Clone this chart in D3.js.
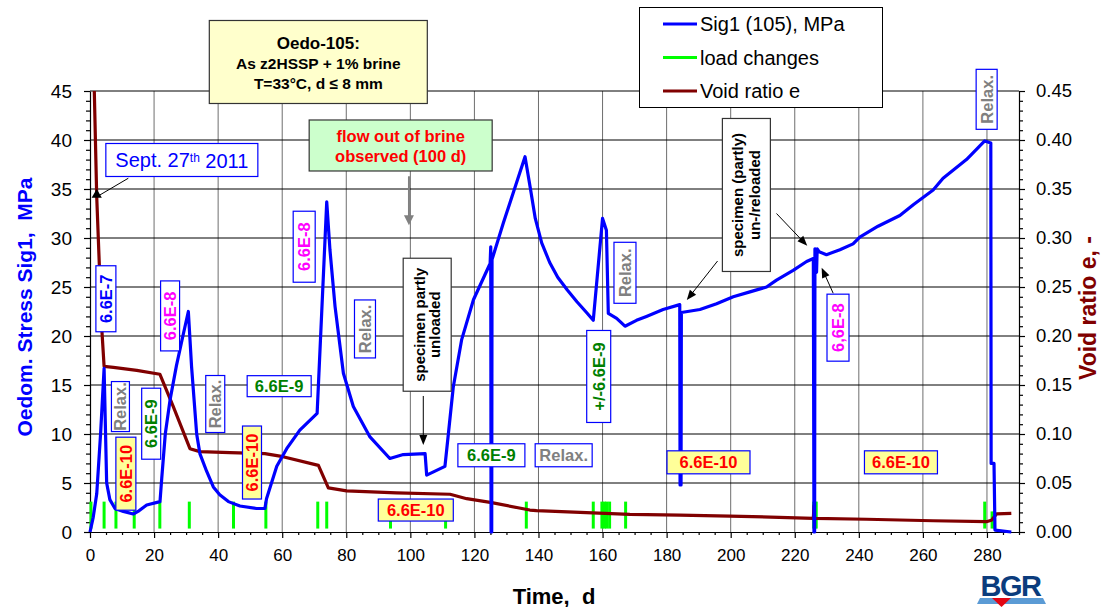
<!DOCTYPE html>
<html><head><meta charset="utf-8">
<script src="https://cdn.jsdelivr.net/npm/d3@7"></script>
<style>
body{margin:0;background:#fff}
svg{font-family:"Liberation Sans",Arial,sans-serif}
</style>
</head><body>
<svg id="c" width="1104" height="607"></svg>
<script>
// ---------------- data ----------------
const sig1Time  = [0, 1, 2.1, 3.3, 4.4, 5.2, 6.2, 7.8, 10.4, 13.5, 15, 17.7, 21.85, 22.4, 23.5, 25, 27, 29, 30.7, 31.7, 33.3, 34.3, 36.4, 38.5, 40.5, 43.2, 46.8, 52, 54.6, 55.1, 58.3, 61.4, 65.5, 70.9, 73.9, 74.9, 76.5, 79.1, 82.2, 87.4, 93.6, 97.8, 104.6, 105.1, 110.8, 111.9, 113.4, 116, 119.7, 124.9, 125.1, 125.2, 125.4, 125.5, 129, 132.1, 135.8, 137.5, 139, 141, 143.5, 146, 149, 152, 155, 157.1, 160, 161.2, 161.8, 164.4, 167, 170.6, 173.7, 178.9, 184.1, 184.2, 184.5, 184.6, 190.4, 195.6, 200.8, 206, 211.2, 214.3, 219.5, 223.7, 225.8, 226.0, 226.2, 226.3, 226.8, 227.0, 227.6, 229.9, 234.1, 238.2, 240.3, 246, 252.8, 257, 263.2, 266.3, 273.6, 279.3, 281.2, 281.3, 282.2, 282.5, 287.6];
const sig1Value = [0, 1.5, 3.9, 10, 16.7, 5, 3.3, 2.4, 2.1, 1.84, 2.1, 2.76, 3.1, 5.5, 10, 13.5, 17, 20, 22.5, 16.9, 10, 8, 6.2, 4.6, 3.8, 3.1, 2.65, 2.4, 2.4, 3.4, 6.7, 8.5, 10.4, 12.1, 33.7, 28.8, 23, 16.2, 12.8, 9.7, 7.5, 7.9, 8.0, 5.8, 6.7, 10.1, 14.8, 19.6, 23.7, 27.4, 29.1, 0, 0, 27.8, 31.5, 34.6, 38.3, 35, 32, 29.5, 27.5, 26, 24.7, 23.5, 22.4, 21.6, 32, 30.8, 22.3, 21.8, 21, 21.6, 22, 22.7, 23.2, 4.8, 4.8, 22.4, 22.7, 23.3, 24, 24.5, 25, 25.7, 26.7, 27.6, 27.9, 0, 0, 28.9, 26.5, 28.9, 28.6, 28.3, 28.8, 29.4, 30.1, 31.2, 32.3, 33.4, 34.9, 36.1, 38, 39.9, 39.7, 7, 7, 0.2, 0];

const voidTime  = [1.2, 2.1, 3.65, 4.4, 7.3, 14.6, 21.8, 26, 31.2, 34.3, 43.7, 54.6, 59.3, 71.3, 74.4, 80.1, 95.7, 112.4, 117.6, 125.4, 137.3, 139.4, 153, 168.5, 184.1, 199.7, 225.8, 226.0, 226.2, 242.4, 263.2, 279.8, 281.4, 283, 287.6];
const voidValue = [0.47, 0.342, 0.209, 0.169, 0.168, 0.165, 0.161, 0.128, 0.085, 0.082, 0.081, 0.080, 0.0775, 0.068, 0.045, 0.042, 0.040, 0.0385, 0.034, 0.030, 0.0224, 0.0218, 0.020, 0.018, 0.0173, 0.0163, 0.014, 0.027, 0.014, 0.013, 0.0115, 0.0105, 0.012, 0.0184, 0.019];

const loadChangeTimes = [0.3, 4.4, 8.1, 13.8, 21.8, 31, 44.8, 54.9, 71.1, 73.9, 93.8, 111, 136.2, 157.1, 159.8, 160.6, 161.3, 162.2, 167.2, 225.9, 226.3, 226.7, 279.3, 281.6, 282.3];
const loadChangeTop   = [3.1, 3.1, 3.1, 3.1, 3.1, 3.1, 3.1, 3.1, 3.1, 3.1, 3.1, 3.1, 3.1, 3.1, 3.1, 3.1, 3.1, 3.1, 3.1, 3.1, 3.1, 3.1, 3.1, 2.1, 2.1];
const loadChangeBottom = 0.35;

const xTicks = d3.range(0, 281, 20);
const yLeftTicks = d3.range(0, 46, 5);
const yRightTicks = d3.range(0, 0.451, 0.05);

const legendItems = ["Sig1 (105), MPa", "load changes", "Void ratio e"];

// ---------------- setup ----------------
const svg = d3.select("#c");
const x = d3.scaleLinear().domain([0, 290]).range([90, 1019]);
const y = d3.scaleLinear().domain([0, 45]).range([532, 91]);
const yR = d3.scaleLinear().domain([0, 0.45]).range([532, 91]);

const BLUE = "#0000FF", GREEN = "#00FF00", DRED = "#800000";

// grid
svg.append("g").selectAll("line").data(xTicks.filter(d => d > 0)).join("line")
  .attr("x1", d => x(d)).attr("x2", d => x(d)).attr("y1", y(0)).attr("y2", y(45))
  .attr("stroke", "#6e6e6e").attr("stroke-width", 1);
svg.append("g").selectAll("line").data(yLeftTicks.filter(d => d > 0)).join("line")
  .attr("x1", x(0)).attr("x2", x(290)).attr("y1", d => y(d)).attr("y2", d => y(d))
  .attr("stroke", "#000").attr("stroke-width", 1);

// axes
const fmt2 = d3.format(".2f");
const axL = svg.append("g").attr("transform", `translate(${x(0)},0)`)
  .call(d3.axisLeft(y).tickValues(yLeftTicks).tickSize(6).tickSizeOuter(0).tickPadding(12));
svg.append("g").attr("transform", `translate(${x(0)},0)`)
  .call(d3.axisLeft(y).tickValues(d3.range(0, 46, 1).filter(d => d % 5)).tickSize(4).tickFormat(""))
  .select(".domain").remove();
const axR = svg.append("g").attr("transform", `translate(${x(290)},0)`)
  .call(d3.axisRight(yR).tickValues(yRightTicks).tickSize(6).tickSizeOuter(0).tickPadding(11).tickFormat(fmt2));
svg.append("g").attr("transform", `translate(${x(290)},0)`)
  .call(d3.axisRight(yR).tickValues(d3.range(0, 46, 1).filter(d => d % 5).map(d => d / 100)).tickSize(4).tickFormat(""))
  .select(".domain").remove();
const axB = svg.append("g").attr("transform", `translate(0,${y(0)})`)
  .call(d3.axisBottom(x).tickValues(xTicks).tickSize(6).tickSizeOuter(0).tickPadding(11));
svg.append("g").attr("transform", `translate(0,${y(0)})`)
  .call(d3.axisBottom(x).tickValues(d3.range(0, 291, 5).filter(d => d % 20)).tickSize(3).tickFormat(""))
  .select(".domain").remove();
svg.selectAll(".domain, .tick line").attr("stroke", "#000").attr("stroke-width", 1.2);
axL.selectAll("text").attr("font-size", 19).attr("fill", "#000").attr("font-family", "Liberation Sans, Arial");
axR.selectAll("text").attr("font-size", 18.5).attr("fill", "#000").attr("font-family", "Liberation Sans, Arial");
axB.selectAll("text").attr("font-size", 17).attr("fill", "#000").attr("font-family", "Liberation Sans, Arial");

// axis titles
svg.append("text").attr("transform", "translate(24,307) rotate(-90)")
  .attr("text-anchor", "middle").attr("dominant-baseline", "central")
  .attr("font-size", 21).attr("font-weight", "bold").attr("fill", BLUE)
  .style("white-space", "pre").text("Oedom. Stress Sig1,  MPa");
svg.append("text").attr("transform", "translate(1088,308) rotate(-90)")
  .attr("text-anchor", "middle").attr("dominant-baseline", "central")
  .attr("font-size", 23).attr("font-weight", "bold").attr("fill", DRED)
  .text("Void ratio e, -");
svg.append("text").attr("x", 554).attr("y", 596)
  .attr("text-anchor", "middle").attr("dominant-baseline", "central")
  .attr("font-size", 22).attr("font-weight", "bold").attr("fill", "#000")
  .style("white-space", "pre").text("Time,  d");

// clip
svg.append("clipPath").attr("id", "clip").append("rect")
  .attr("x", x(0) - 3).attr("y", y(45)).attr("width", x(290) - x(0) + 3).attr("height", y(0) - y(45) + 3);

// load changes
svg.append("g").selectAll("line").data(loadChangeTimes).join("line")
  .attr("x1", d => x(d)).attr("x2", d => x(d))
  .attr("y1", y(loadChangeBottom)).attr("y2", (d, i) => y(loadChangeTop[i]))
  .attr("stroke", GREEN).attr("stroke-width", 3);

// void ratio
const voidData = voidTime.map((t, i) => [t, voidValue[i]]);
svg.append("path").datum(voidData).attr("clip-path", "url(#clip)")
  .attr("d", d3.line().x(d => x(d[0])).y(d => yR(d[1])))
  .attr("fill", "none").attr("stroke", DRED).attr("stroke-width", 3.2).attr("stroke-linejoin", "round");

// sig1
const sigData = sig1Time.map((t, i) => [t, sig1Value[i]]);
svg.append("path").datum(sigData).attr("clip-path", "url(#clip)")
  .attr("d", d3.line().x(d => x(d[0])).y(d => y(d[1])))
  .attr("fill", "none").attr("stroke", BLUE).attr("stroke-width", 3.2).attr("stroke-linejoin", "round");

// ---------------- annotations ----------------
function arrow(t1, s1, t2, s2, color, head) {
  const x1 = x(t1), y1 = y(s1), x2 = x(t2), y2 = y(s2);
  const ang = Math.atan2(y2 - y1, x2 - x1);
  const L = head ? 10 : 0;
  svg.append("line").attr("x1", x1).attr("y1", y1)
    .attr("x2", x2 - Math.cos(ang) * L * 0.8).attr("y2", y2 - Math.sin(ang) * L * 0.8)
    .attr("stroke", color).attr("stroke-width", color === "#808080" ? 2 : 1);
  if (head) {
    const w = color === "#808080" ? 5 : 4;
    const bx = x2 - Math.cos(ang) * L, by = y2 - Math.sin(ang) * L;
    const px = -Math.sin(ang) * w, py = Math.cos(ang) * w;
    svg.append("path").attr("d", `M${x2},${y2}L${bx + px},${by + py}L${bx - px},${by - py}Z`).attr("fill", color);
  }
}

const labels = [
  {t: 4.96, s: 23.8, text: "6.6E-7", color: BLUE, rot: true, len: 66, thick: 20},
  {t: 9.5, s: 12.8, text: "Relax.", color: "#808080", rot: true, len: 50, thick: 18},
  {t: 11.2, s: 5.95, text: "6.6E-10", color: "#FF0000", fill: "#FFFF99", rot: true, len: 73, thick: 20},
  {t: 19.1, s: 11.05, text: "6.6E-9", color: "#008000", rot: true, len: 71, thick: 19},
  {t: 25, s: 22.05, text: "6.6E-8", color: "#FF00FF", rot: true, len: 70, thick: 19},
  {t: 39.1, s: 13.06, text: "Relax.", color: "#808080", rot: true, len: 57, thick: 19},
  {t: 59.05, s: 14.88, text: "6.6E-9", color: "#008000", rot: false, len: 64, thick: 21},
  {t: 50.57, s: 7.09, text: "6.6E-10", color: "#FF0000", fill: "#FFFF99", rot: true, len: 73, thick: 19},
  {t: 66.86, s: 29.11, text: "6.6E-8", color: "#FF00FF", rot: true, len: 71, thick: 22},
  {t: 85.84, s: 20.72, text: "Relax.", color: "#808080", rot: true, len: 58, thick: 21},
  {t: 101.7, s: 2.24, text: "6.6E-10", color: "#FF0000", fill: "#FFFF99", rot: false, len: 75, thick: 22},
  {t: 125.3, s: 7.83, text: "6.6E-9", color: "#008000", rot: false, len: 67, thick: 23},
  {t: 147.86, s: 7.83, text: "Relax.", color: "#808080", rot: false, len: 57, thick: 23},
  {t: 158.8, s: 15.87, text: "+/-6.6E-9", color: "#008000", rot: true, len: 92, thick: 24},
  {t: 167, s: 26.45, text: "Relax.", color: "#808080", rot: true, len: 61, thick: 22},
  {t: 193.07, s: 7.11, text: "6.6E-10", color: "#FF0000", fill: "#FFFF99", rot: false, len: 83, thick: 23},
  {t: 233.5, s: 20.85, text: "6,6E-8", color: "#FF00FF", rot: true, len: 67, thick: 22},
  {t: 253.15, s: 7.11, text: "6.6E-10", color: "#FF0000", fill: "#FFFF99", rot: false, len: 73, thick: 23},
  {t: 279.9, s: 44.15, text: "Relax.", color: "#808080", rot: true, len: 60, thick: 21}
];

// arrows (drawn under boxes)
arrow(99.57, 36.3, 99.57, 31.3, "#808080", true);
arrow(104.04, 13.88, 104.04, 8.88, "#000", true);
arrow(214.3, 32.5, 223.9, 29.2, "#000", true);
arrow(195.9, 27.65, 186.3, 23.67, "#000", true);
arrow(232, 24.36, 228.4, 26.97, "#000", true);
arrow(11.96, 36.1, 2.1, 34.2, "#000", false);
svg.append("path").attr("transform", `translate(${x(2.1)},${yR(0.342) - 2})`)
  .attr("d", d3.symbol(d3.symbolTriangle, 45)()).attr("fill", "#000");

labels.forEach(o => {
  const g = svg.append("g").attr("transform", `translate(${x(o.t)},${y(o.s)}) rotate(${o.rot ? -90 : 0})`);
  g.append("rect").attr("x", -o.len / 2).attr("y", -o.thick / 2).attr("width", o.len).attr("height", o.thick)
    .attr("fill", o.fill || "#fff").attr("stroke", BLUE).attr("stroke-width", 1.2);
  g.append("text").attr("text-anchor", "middle").attr("dy", "0.36em")
    .attr("font-weight", "bold").attr("font-size", 16.5).attr("fill", o.color).text(o.text);
});

function multiBox(t, s, w, h, rot, fill, lines, color, size, offsets) {
  const g = svg.append("g").attr("transform", `translate(${x(t)},${y(s)}) rotate(${rot ? -90 : 0})`);
  g.append("rect").attr("x", -w / 2).attr("y", -h / 2).attr("width", w).attr("height", h)
    .attr("fill", fill).attr("stroke", "#333").attr("stroke-width", 1.2);
  lines.forEach((ln, i) => {
    g.append("text").attr("text-anchor", "middle").attr("y", offsets[i]).attr("dy", "0.36em")
      .attr("font-weight", "bold").attr("font-size", size[i]).attr("fill", color).text(ln);
  });
}
multiBox(71.27, 47.96, 218, 83, false, "#FFFFCC", ["Oedo-105:", "As z2HSSP + 1% brine", "T=33°C, d ≤ 8 mm"], "#000", [17, 15.5, 15.5], [-19, 1, 21]);
multiBox(96.98, 39.44, 183, 51, false, "#CCFFCC", ["flow out of brine", "observed (100 d)"], "#FF0000", [16.5, 16.5], [-9, 11]);
multiBox(105.26, 21.15, 133, 48, true, "#fff", ["specimen partly", "unloaded"], "#000", [15, 15], [-7.5, 7.5]);
multiBox(204.9, 34.39, 153, 48, true, "#fff", ["specimen (partly)", "un-/reloaded"], "#000", [15, 15], [-8.5, 8.5]);

// Sept label
const sg = svg.append("g").attr("transform", `translate(${x(28.67)},${y(37.96)})`);
sg.append("rect").attr("x", -76).attr("y", -16.5).attr("width", 152).attr("height", 33)
  .attr("fill", "#fff").attr("stroke", BLUE).attr("stroke-width", 1.2);
const st = sg.append("text").attr("text-anchor", "middle").attr("dy", "0.36em")
  .attr("font-size", 20).attr("fill", BLUE);
st.append("tspan").text("Sept. 27");
st.append("tspan").attr("font-size", 12).attr("dy", "-0.45em").text("th");
st.append("tspan").attr("dy", "0.3em").text(" 2011");

// legend
const lg = svg.append("g");
lg.append("rect").attr("x", 639.5).attr("y", 7.5).attr("width", 243).attr("height", 100)
  .attr("fill", "#fff").attr("stroke", "#000").attr("stroke-width", 1);
const lcolors = [BLUE, GREEN, DRED];
legendItems.forEach((txt, i) => {
  const yy = 24 + i * 33.5;
  lg.append("line").attr("x1", 663).attr("x2", 697).attr("y1", yy).attr("y2", yy)
    .attr("stroke", lcolors[i]).attr("stroke-width", 3);
  lg.append("text").attr("x", 700).attr("y", yy).attr("dy", "0.36em")
    .attr("font-size", 20).attr("fill", "#000").text(txt);
});

// BGR logo
const logo = svg.append("g");
logo.append("path").attr("d", "M980,598L1043,598L1046,604L977,604Z").attr("fill", "#5B9BD5");
logo.append("path").attr("d", "M992,598L1011,598L1001.5,607Z").attr("fill", "#E30613");
logo.append("text").attr("x", 1010.5).attr("y", 596).attr("text-anchor", "middle")
  .attr("font-size", 29).attr("font-weight", "bold").attr("fill", "#0B3C7D")
  .attr("letter-spacing", "-1.5").text("BGR");
</script>
</body></html>
